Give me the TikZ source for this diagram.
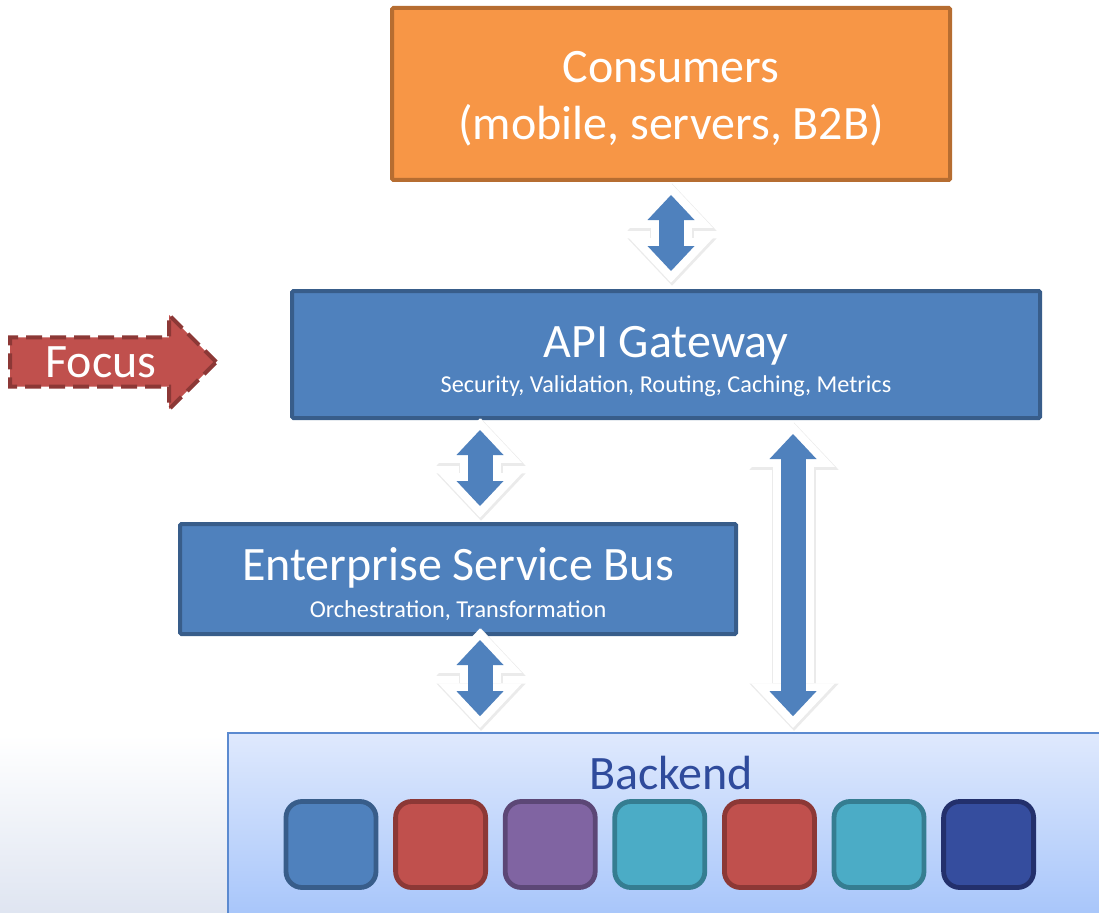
\documentclass[tikz,border=0pt]{standalone}
\usepackage{fontspec}
\setmainfont{Carlito}
\usetikzlibrary{arrows.meta,shapes.arrows}

\definecolor{orangefill}{HTML}{F79646}
\definecolor{orangeline}{HTML}{B66D31}
\definecolor{bluefill}{HTML}{4F81BD}
\definecolor{blueline}{HTML}{385D8A}
\definecolor{redfill}{HTML}{C0504D}
\definecolor{redline}{HTML}{8C3836}
\definecolor{purplefill}{HTML}{8064A2}
\definecolor{purpleline}{HTML}{5C4776}
\definecolor{aquafill}{HTML}{4BACC6}
\definecolor{aqualine}{HTML}{357D91}
\definecolor{navyfill}{HTML}{354D9E}
\definecolor{navyline}{HTML}{23306C}
\definecolor{backtop}{HTML}{DFE9FD}
\definecolor{backbottom}{HTML}{A5C4FA}
\definecolor{backline}{HTML}{5B8AD0}
\definecolor{backtext}{HTML}{2F4B9C}
\definecolor{slidebottom}{HTML}{DFE5F1}

\newcommand\titlefnt{\fontsize{36}{43}\selectfont}
\newcommand\notefnt{\fontsize{18.2}{22}\selectfont}

\tikzset{
  layer box/.style={draw,line width=3pt,rounded corners=1pt,inner sep=0pt,
    text=white,align=center,font=\titlefnt},
  consumer box/.style={layer box,fill=orangefill,draw=orangeline},
  gateway box/.style={layer box,fill=bluefill,draw=blueline},
  service tile/.style={draw,rounded corners=12pt,line width=3.6pt,
    minimum width=67.5pt,minimum height=64.5pt},
  focus arrow/.style={single arrow,fill=redfill,draw=redline,line width=3pt,
    dash pattern=on 12pt off 6pt,single arrow head extend=16.9pt,
    single arrow head indent=0pt,minimum height=154.5pt,text height=23pt,
    text depth=0pt,inner ysep=5.4pt,inner xsep=0pt,text=white,font=\titlefnt},
  link shadow/.style={black!8,line width=32.5pt,
    {Triangle[width=67pt,length=35.5pt,line width=0pt]}-{Triangle[width=67pt,length=35.5pt,line width=0pt]}},
  link halo/.style={white,line width=30.75pt,
    {Triangle[width=63pt,length=33.5pt,line width=0pt]}-{Triangle[width=63pt,length=33.5pt,line width=0pt]}},
  link body/.style={bluefill,line width=18.75pt,
    {Triangle[width=35.25pt,length=18.75pt,line width=0pt]}-{Triangle[width=35.25pt,length=18.75pt,line width=0pt]}}
}

\begin{document}
\begin{tikzpicture}[x=0.75pt,y=-0.75pt]
  \useasboundingbox (0,0) rectangle (1099,913);
  \fill[top color=white,bottom color=slidebottom] (0,735) rectangle (228,913);

  % layers
  \node[consumer box,minimum width=418.5pt,minimum height=129pt] (cons) at (671,94)
    {\fontsize{36}{43.5}\selectfont\rule{0pt}{30pt}Consumers\\(mobile, servers, B2B)};
  \node[gateway box,minimum width=561pt,minimum height=95.25pt] (api) at (666,354.5)
    {\rule{0pt}{34pt}API Gateway\\[-17pt]{\notefnt Security, Validation, Routing, Caching, Metrics}};
  \node[gateway box,minimum width=417pt,minimum height=82.5pt] (esb) at (458,579)
    {\rule{0pt}{32pt}Enterprise Service Bus\\[-15pt]{\notefnt Orchestration, Transformation}};
  \node[draw=backline,line width=1.2pt,top color=backtop,bottom color=backbottom,
    minimum width=661.5pt,minimum height=144pt,inner sep=0pt] (backend) at (669,829) {};
  \node[text=backtext,font=\titlefnt,inner sep=0pt] (backendlabel) at (671,773) {Backend};

  % services in the backend
  \foreach \fc/\lc [count=\i] in {bluefill/blueline,redfill/redline,purplefill/purpleline,
      aquafill/aqualine,redfill/redline,aquafill/aqualine,navyfill/navyline}
    \node[service tile,fill=\fc,draw=\lc] (tile\i) at (331+109.6*\i-109.6,844.5) {};

  \node[focus arrow,anchor=tip] (focus) at (219,362) {Focus};

  % connectors
  \coordinate (l1a) at (cons.south);
  \coordinate (l1b) at (cons.south |- api.north);
  \coordinate (l2a) at ([xshift=16.5pt]esb.north |- api.south);
  \coordinate (l2b) at ([xshift=16.5pt]esb.north);
  \coordinate (l3a) at ([xshift=16.5pt]esb.south);
  \coordinate (l3b) at ([xshift=16.5pt]esb.south |- backend.north);
  \coordinate (l4a) at ([xshift=95.25pt]api.south);
  \coordinate (l4b) at ([xshift=95.25pt]api.south |- backend.north);
  \foreach \a/\b/\s/\t in {l1a/l1b/9.75/13.5,l2a/l2b/7.5/12,l3a/l3b/3/12,l4a/l4b/10.5/12}{
    \draw[link shadow,shorten <=\s pt-9.8pt,shorten >=\t pt-9.8pt]
      ([shift={(0.8pt,-1.2pt)}]\a) -- ([shift={(0.8pt,-1.2pt)}]\b);
    \draw[link halo,shorten <=\s pt-8.8pt,shorten >=\t pt-8.8pt] (\a) -- (\b);
    \draw[link body,shorten <=\s pt,shorten >=\t pt] (\a) -- (\b);
  }
\end{tikzpicture}
\end{document}
